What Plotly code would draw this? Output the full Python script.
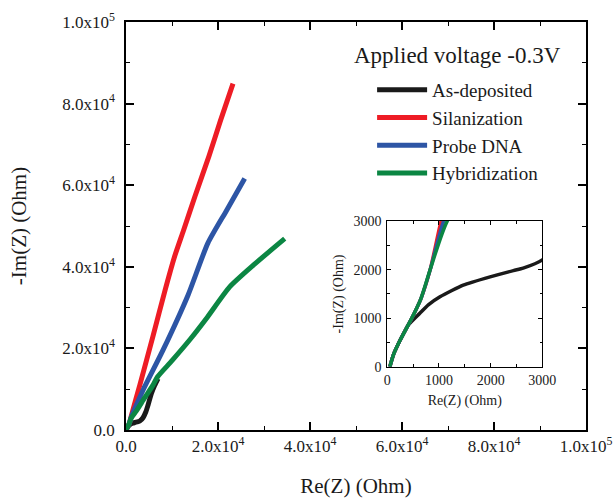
import plotly.graph_objects as go

# ---- data (Ohm) ----
series_names = ["As-deposited", "Silanization", "Probe DNA", "Hybridization"]

black_re = [50, 120, 250, 400, 630, 800, 1020, 1250, 1470, 1990, 2440, 2630, 3000, 3700, 4300, 4780, 5520, 6240, 6960]
black_im = [0, 250, 550, 850, 1100, 1280, 1440, 1570, 1680, 1850, 1980, 2030, 2200, 3000, 4400, 6080, 8950, 10980, 12620]

red_re = [50, 120, 250, 450, 650, 830, 1040, 3000, 5870, 8500, 10500, 12500, 15000, 18000, 20500, 23260]
red_im = [0, 250, 550, 950, 1400, 2000, 3000, 11000, 23000, 34300, 42300, 48900, 57300, 67000, 75700, 84900]

blue_re = [50, 120, 250, 450, 650, 830, 1090, 3700, 8040, 13480, 17800, 21800, 25800]
blue_im = [0, 250, 550, 950, 1400, 2000, 3000, 9750, 19560, 33040, 45800, 53700, 61640]

green_re = [50, 120, 250, 450, 650, 830, 1160, 2260, 4000, 5870, 6830, 10000, 14000, 17480, 22540, 28000, 34500]
green_im = [0, 250, 550, 950, 1400, 2000, 3000, 4700, 7800, 11000, 13000, 17000, 22300, 27330, 35070, 40700, 46900]

main_tickvals = [0, 20000, 40000, 60000, 80000, 100000]
main_ticktext = ["0.0", "2.0x10<sup>4</sup>", "4.0x10<sup>4</sup>", "6.0x10<sup>4</sup>",
                 "8.0x10<sup>4</sup>", "1.0x10<sup>5</sup>"]

colors = ["#1a1a1a", "#ee1c25", "#2d55a5", "#0b8643"]
FONT = "Liberation Serif, serif"

xs = [black_re, red_re, blue_re, green_re]
ys = [black_im, red_im, blue_im, green_im]

fig = go.Figure()
for name, x, y, c in zip(series_names, xs, ys, colors):
    fig.add_trace(go.Scatter(x=x, y=y, mode="lines", name=name, legendgroup=name,
                             line=dict(color=c, width=5, shape="spline", smoothing=0.6),
                             xaxis="x", yaxis="y"))
for name, x, y, c in zip(series_names, xs, ys, colors):
    fig.add_trace(go.Scatter(x=x, y=y, mode="lines", name=name, legendgroup=name,
                             showlegend=False,
                             line=dict(color=c, width=3.5, shape="spline", smoothing=0.6),
                             xaxis="x2", yaxis="y2"))

axis_common = dict(showgrid=False, zeroline=False, showline=True, linecolor="black",
                   mirror="ticks", ticks="inside", tickcolor="black", automargin=False)

fig.update_layout(
    width=613, height=498,
    margin=dict(l=126, r=27, t=22, b=68, autoexpand=False),
    paper_bgcolor="white", plot_bgcolor="white",
    font=dict(family=FONT, color="#1a1a1a"),
    xaxis=dict(domain=[0, 1], range=[0, 100000], tickvals=main_tickvals, ticktext=main_ticktext,
               ticklen=8, tickwidth=1.5, linewidth=1.5, ticklabelstandoff=0,
               minor=dict(ticks="inside", ticklen=4, dtick=10000, tickcolor="black", tickwidth=1.2),
               tickfont=dict(size=17, family=FONT),
               title=dict(text="Re(Z) (Ohm)", font=dict(size=21, family=FONT), standoff=24),
               **axis_common),
    yaxis=dict(domain=[0, 1], range=[0, 100000], tickvals=main_tickvals, ticktext=main_ticktext,
               ticklen=8, tickwidth=1.5, linewidth=1.5, ticklabelstandoff=6,
               minor=dict(ticks="inside", ticklen=4, dtick=10000, tickcolor="black", tickwidth=1.2),
               tickfont=dict(size=17, family=FONT),
               title=dict(text="-Im(Z) (Ohm)", font=dict(size=21, family=FONT), standoff=30),
               **axis_common),
    xaxis2=dict(domain=[0.568, 0.905], anchor="y2", range=[0, 3000], dtick=1000, tick0=0,
                ticklen=4, tickwidth=1, linewidth=1, ticklabelstandoff=0,
                minor=dict(ticks="inside", ticklen=2.5, dtick=500, tickcolor="black"),
                tickfont=dict(size=14, family=FONT),
                title=dict(text="Re(Z) (Ohm)", font=dict(size=14, family=FONT), standoff=8),
                **axis_common),
    yaxis2=dict(domain=[0.155, 0.512], anchor="x2", range=[0, 3000], dtick=1000, tick0=0,
                ticklen=4, tickwidth=1, linewidth=1, ticklabelstandoff=2,
                minor=dict(ticks="inside", ticklen=2.5, dtick=500, tickcolor="black"),
                tickfont=dict(size=14, family=FONT),
                title=dict(text="-Im(Z) (Ohm)", font=dict(size=14, family=FONT), standoff=6),
                **axis_common),
    legend=dict(x=0.535, y=0.88, xanchor="left", yanchor="top",
                bgcolor="rgba(0,0,0,0)", font=dict(size=19, family=FONT),
                itemwidth=50, tracegroupgap=0, traceorder="normal"),
    showlegend=True,
    annotations=[dict(text="Applied voltage -0.3V", xref="paper", yref="paper",
                      x=0.491, y=0.919, xanchor="left", yanchor="middle", showarrow=False,
                      font=dict(size=23, family=FONT))],
)

fig.write_html("out.html", config={"displayModeBar": False},
               post_script="document.body.style.margin='0';")
